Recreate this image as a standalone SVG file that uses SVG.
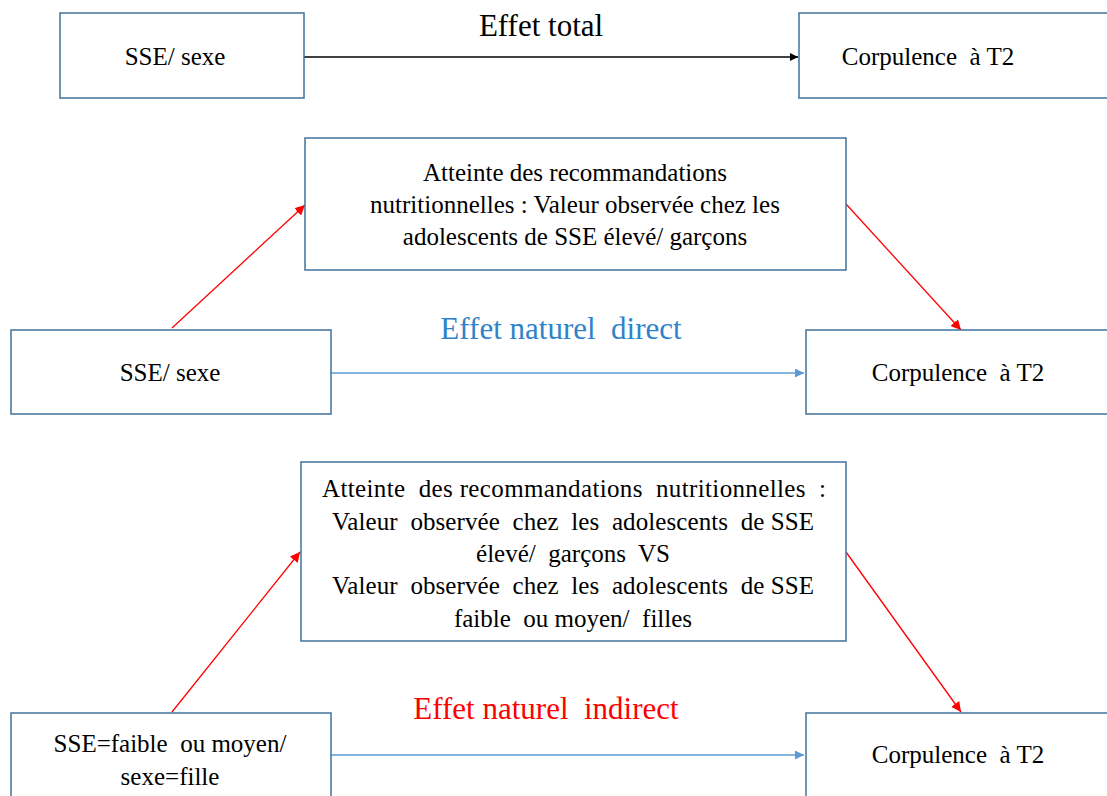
<svg xmlns="http://www.w3.org/2000/svg" width="1107" height="796" viewBox="0 0 1107 796" font-family="Liberation Serif, Times New Roman, serif">
<defs>
<style>
.box{fill:#fff;stroke:#41719C;stroke-width:1.5}
.t{font-size:25px;fill:#000;text-anchor:middle;white-space:pre}
.lbl{font-size:31px;text-anchor:middle;white-space:pre}
.blk{stroke:#000;stroke-width:1.5;fill:none}
.blu{stroke:#5B9BD5;stroke-width:1.5;fill:none}
.red{stroke:#FF0000;stroke-width:1.3;fill:none}
</style>
<marker id="ab" viewBox="0 0 10 10" refX="10" refY="5" markerWidth="8" markerHeight="8" markerUnits="userSpaceOnUse" orient="auto"><path d="M0,0L10,5L0,10z" fill="#000"/></marker>
<marker id="au" viewBox="0 0 10 10" refX="10" refY="5" markerWidth="9" markerHeight="9" markerUnits="userSpaceOnUse" orient="auto"><path d="M0,0L10,5L0,10z" fill="#5B9BD5"/></marker>
<marker id="ar" viewBox="0 0 10 10" refX="10" refY="5" markerWidth="10" markerHeight="10" markerUnits="userSpaceOnUse" orient="auto"><path d="M0,0L10,5L0,10z" fill="#FF0000"/></marker>
</defs>
<rect width="1107" height="796" fill="#fff"/>
<g id="connectors">
<line class="blk" x1="304" y1="57" x2="798" y2="57" marker-end="url(#ab)"/>
<line class="blu" x1="331" y1="373" x2="804" y2="373" marker-end="url(#au)"/>
<line class="blu" x1="331" y1="755" x2="804" y2="755" marker-end="url(#au)"/>
<line class="red" x1="172" y1="328" x2="305" y2="205" marker-end="url(#ar)"/>
<line class="red" x1="846" y1="204" x2="961" y2="330" marker-end="url(#ar)"/>
<line class="red" x1="172" y1="712" x2="300" y2="552" marker-end="url(#ar)"/>
<line class="red" x1="846" y1="552" x2="961" y2="712" marker-end="url(#ar)"/>
</g>
<g id="labels" font-family="Liberation Serif, Times New Roman, serif">
<text class="lbl" x="541" y="36" fill="#000">Effet total</text>
<text class="lbl" x="561" y="339" fill="#2E83C9">Effet naturel  direct</text>
<text class="lbl" x="546" y="719" fill="#FF0000">Effet naturel  indirect</text>
</g>
<g id="n1" font-family="Liberation Serif, Times New Roman, serif"><rect class="box" x="60" y="13" width="244" height="85"/><text class="t" x="175" y="65">SSE/ sexe</text></g>
<g id="n2" font-family="Liberation Serif, Times New Roman, serif"><rect class="box" x="799" y="13" width="320" height="85"/><text class="t" x="928" y="65">Corpulence  à T2</text></g>
<g id="n3" font-family="Liberation Serif, Times New Roman, serif"><rect class="box" x="305" y="138" width="541" height="132"/>
<text class="t" x="575" y="181">Atteinte des recommandations</text>
<text class="t" x="575" y="213">nutritionnelles : Valeur observée chez les</text>
<text class="t" x="575" y="245">adolescents de SSE élevé/ garçons</text></g>
<g id="n4" font-family="Liberation Serif, Times New Roman, serif"><rect class="box" x="11" y="330" width="320" height="84"/><text class="t" x="170" y="381">SSE/ sexe</text></g>
<g id="n5" font-family="Liberation Serif, Times New Roman, serif"><rect class="box" x="806" y="330" width="320" height="84"/><text class="t" x="958" y="381">Corpulence  à T2</text></g>
<g id="n6" font-family="Liberation Serif, Times New Roman, serif"><rect class="box" x="301" y="462" width="545" height="179"/>
<text class="t" x="574" y="497" textLength="504" lengthAdjust="spacing">Atteinte  des recommandations  nutritionnelles  :</text>
<text class="t" x="573" y="530" textLength="482" lengthAdjust="spacing">Valeur  observée  chez  les  adolescents  de SSE</text>
<text class="t" x="573" y="562">élevé/  garçons  VS</text>
<text class="t" x="573" y="594" textLength="482" lengthAdjust="spacing">Valeur  observée  chez  les  adolescents  de SSE</text>
<text class="t" x="573" y="627">faible  ou moyen/  filles</text></g>
<g id="n7" font-family="Liberation Serif, Times New Roman, serif"><rect class="box" x="11" y="713" width="320" height="100"/>
<text class="t" x="170" y="752">SSE=faible  ou moyen/</text>
<text class="t" x="170" y="785">sexe=fille</text></g>
<g id="n8" font-family="Liberation Serif, Times New Roman, serif"><rect class="box" x="806" y="713" width="320" height="100"/><text class="t" x="958" y="763">Corpulence  à T2</text></g>
</svg>
